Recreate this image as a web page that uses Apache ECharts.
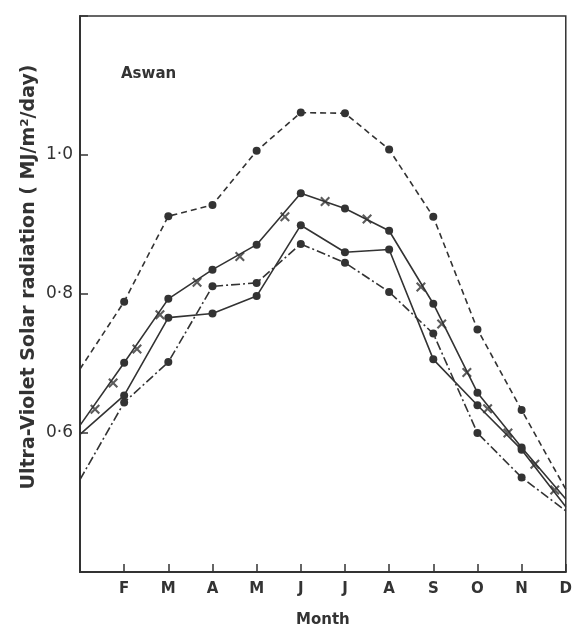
<!DOCTYPE html>
<html>
<head>
<meta charset="utf-8">
<script src="https://cdn.jsdelivr.net/npm/echarts@6/dist/echarts.min.js"></script>
<style>
  html, body { margin: 0; padding: 0; background: #fff; }
  #chart { width: 575px; height: 633px; }
</style>
</head>
<body>
<div id="chart"></div>
<script>
// month ticks (first one is the corner, left blank)
var months = ["", "F", "M", "A", "M", "J", "J", "A", "S", "O", "N", "D"];
var yTickLabels = { "0.6": "0·6", "0.8": "0·8", "1.0": "1·0" };

// dashed curve, top
var dashedVals = [0.692, 0.789, 0.912, 0.928, 1.006, 1.061, 1.060, 1.008, 0.911, 0.749, 0.633, 0.519];
// solid curve with crosses
var crossLineVals = [0.611, 0.701, 0.793, 0.835, 0.871, 0.945, 0.923, 0.891, 0.786, 0.658, 0.579, 0.505];
// cross marks along that curve (month position, value)
var crossMarks = [
  [0.34, 0.634], [0.75, 0.672], [1.29, 0.721], [1.81, 0.770], [2.65, 0.817],
  [3.62, 0.854], [4.64, 0.911], [5.55, 0.933], [6.50, 0.908], [7.72, 0.810],
  [8.19, 0.757], [8.76, 0.687], [9.23, 0.635], [9.69, 0.600], [10.30, 0.555],
  [10.75, 0.518]
];
// plain solid curve
var solidVals = [0.598, 0.654, 0.766, 0.772, 0.797, 0.899, 0.860, 0.864, 0.706, 0.640, 0.576, 0.494];
// dash-dot curve
var dashDotVals = [0.533, 0.644, 0.702, 0.811, 0.816, 0.872, 0.845, 0.803, 0.743, 0.600, 0.536, 0.488];

// no dot on the two frame edges (Jan / Dec ends)
function pairs(vals) {
  return vals.map(function (v, i) {
    var item = { value: [i, v] };
    if (i === 0 || i === vals.length - 1) item.symbol = "none";
    return item;
  });
}

var ink = "#333";
var crossPath = "path://M0,1.5L1.5,0L5,3.5L8.5,0L10,1.5L6.5,5L10,8.5L8.5,10L5,6.5L1.5,10L0,8.5L3.5,5Z";

function lineSeries(vals, type) {
  return {
    type: "line",
    data: pairs(vals),
    symbol: "circle",
    symbolSize: 8,
    itemStyle: { color: ink },
    lineStyle: { color: ink, width: 1.6, type: type },
    z: 3
  };
}

var chart = echarts.init(document.getElementById("chart"));
chart.setOption({
  animation: false,
  backgroundColor: "#fff",
  textStyle: { fontFamily: "DejaVu Sans" },
  title: {
    text: "Aswan",
    left: 116,
    top: 62,
    textStyle: { fontSize: 15, fontWeight: "bold", color: ink, fontFamily: "DejaVu Sans" }
  },
  graphic: [{
    type: "text",
    x: 29,
    y: 277,
    rotation: Math.PI / 2,
    style: {
      text: "Ultra-Violet Solar radiation ( MJ/m²/day)",
      fill: ink,
      font: "bold 19px 'DejaVu Sans'",
      align: "center",
      verticalAlign: "middle"
    }
  }],
  grid: {
    left: 80,
    right: 9,
    top: 16,
    bottom: 57,
    show: true,
    borderColor: ink,
    borderWidth: 1.5,
    backgroundColor: "transparent"
  },
  xAxis: {
    type: "value",
    min: 0,
    max: 11,
    interval: 1,
    name: "Month",
    nameLocation: "middle",
    nameGap: 41,
    nameTextStyle: { fontSize: 15, fontWeight: "bold", color: ink },
    axisLine: { show: true, lineStyle: { color: ink, width: 2 } },
    axisTick: { show: true, inside: true, length: 8, lineStyle: { color: ink, width: 1.5 } },
    axisLabel: {
      margin: 10,
      fontSize: 15,
      fontWeight: "bold",
      color: ink,
      formatter: function (v) { return months[Math.round(v)] || ""; }
    },
    splitLine: { show: false }
  },
  yAxis: {
    type: "value",
    min: 0.4,
    max: 1.2,
    interval: 0.2,
    axisLine: { show: true, lineStyle: { color: ink, width: 2 } },
    axisTick: { show: true, inside: true, length: 8, lineStyle: { color: ink, width: 1.5 } },
    axisLabel: {
      margin: 7,
      fontSize: 17,
      color: ink,
      formatter: function (v) { return yTickLabels[v.toFixed(1)] || ""; }
    },
    splitLine: { show: false }
  },
  series: [
    lineSeries(dashedVals, [6, 4]),
    lineSeries(crossLineVals, "solid"),
    lineSeries(solidVals, "solid"),
    lineSeries(dashDotVals, [9, 3, 2, 3]),
    {
      type: "scatter",
      data: crossMarks,
      symbol: crossPath,
      symbolSize: 10,
      itemStyle: { color: ink },
      z: 4
    }
  ]
});
</script>
</body>
</html>
